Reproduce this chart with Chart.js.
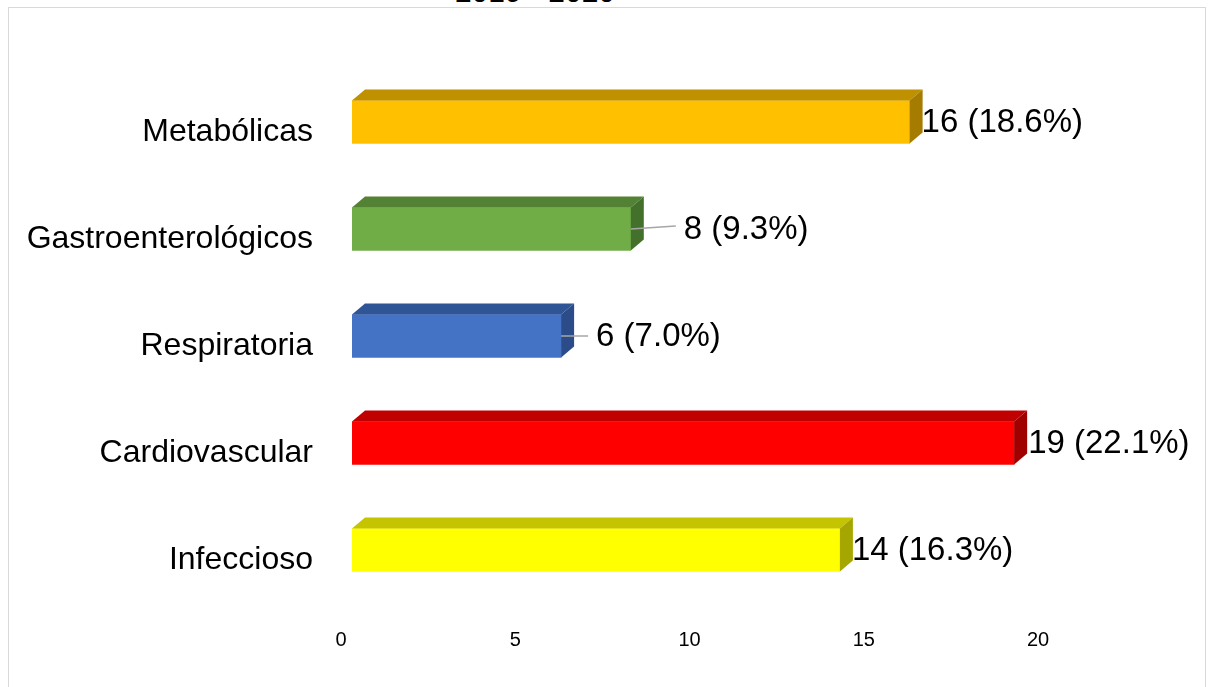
<!DOCTYPE html>
<html lang="es">
<head>
<meta charset="utf-8">
<title>Enfermedades 2019 - 2020</title>
<script src="https://cdn.jsdelivr.net/npm/chart.js@4/dist/chart.umd.min.js"></script>
<style>
  html, body { margin: 0; padding: 0; background: #fff; overflow: hidden; }
  .wrap { position: relative; width: 1215px; height: 687px; }
  .frame {
    position: absolute; left: 8px; top: 7px; width: 1198px; height: 700px;
    border: 1px solid #D9D9D9; box-sizing: border-box;
  }
  .title {
    position: absolute; left: 0; width: 1070px; top: -25px; text-align: center;
    font: 30px 'Liberation Sans', Arial, sans-serif; color: #000; line-height: 34px;
  }
  #chart { position: absolute; left: 0; top: 0; }
</style>
</head>
<body>
<div class="wrap">
  <div class="frame"></div>
  <div class="title">2019 - 2020</div>
  <canvas id="chart" width="1215" height="687"></canvas>
</div>
<script>
  // datos
  const categories = ['Metabólicas', 'Gastroenterológicos', 'Respiratoria', 'Cardiovascular', 'Infeccioso'];
  const counts = [16, 8, 6, 19, 14];
  const percents = [18.6, 9.3, 7.0, 22.1, 16.3];
  const xTicks = [0, 5, 10, 15, 20];

  // colores: cara frontal / superior / lateral
  const frontColors = ['#FFC000', '#70AD47', '#4472C4', '#FF0000', '#FFFF00'];
  const topColors   = ['#BF9000', '#548235', '#2F5597', '#C00000', '#C4C400'];
  const sideColors  = ['#A67C00', '#43712B', '#2B4C88', '#A00000', '#A6A600'];

  // desplazamiento de etiqueta (px) y línea guía
  const labelShift = [12, 53, 35, 14, 12];
  const hasLeader  = [false, true, true, false, false];

  const FONT = "'Liberation Sans', Arial, sans-serif";
  const DX = 13, DY = 11;

  const bar3d = {
    id: 'bar3d',
    afterDatasetsDraw(chart) {
      const ctx = chart.ctx;
      const meta = chart.getDatasetMeta(0);
      ctx.save();
      meta.data.forEach(function (bar, i) {
        const p = bar.getProps(['x', 'y', 'base', 'height'], true);
        const t = p.y - p.height / 2, b = p.y + p.height / 2;
        // cara superior
        ctx.fillStyle = topColors[i];
        ctx.beginPath();
        ctx.moveTo(p.base, t);
        ctx.lineTo(p.base + DX, t - DY);
        ctx.lineTo(p.x + DX, t - DY);
        ctx.lineTo(p.x, t);
        ctx.closePath();
        ctx.fill();
        // cara lateral
        ctx.fillStyle = sideColors[i];
        ctx.beginPath();
        ctx.moveTo(p.x, t);
        ctx.lineTo(p.x + DX, t - DY);
        ctx.lineTo(p.x + DX, b - DY);
        ctx.lineTo(p.x, b);
        ctx.closePath();
        ctx.fill();

        // etiqueta de datos
        const lx = p.x + labelShift[i];
        if (hasLeader[i]) {
          ctx.strokeStyle = '#A6A6A6';
          ctx.lineWidth = 1.5;
          ctx.beginPath();
          ctx.moveTo(p.x, p.y);
          ctx.lineTo(lx - 8, p.y - (i === 1 ? 3 : 0));
          ctx.stroke();
        }
        ctx.fillStyle = '#000';
        ctx.font = '33px ' + FONT;
        ctx.textAlign = 'left';
        ctx.textBaseline = 'middle';
        ctx.fillText(counts[i] + ' (' + percents[i].toFixed(1) + '%)', lx, p.y + 1);
      });
      ctx.restore();
    }
  };

  new Chart(document.getElementById('chart'), {
    type: 'bar',
    data: {
      labels: categories,
      datasets: [{
        data: counts,
        backgroundColor: frontColors,
        borderWidth: 0,
        barThickness: 43
      }]
    },
    options: {
      indexAxis: 'y',
      responsive: false,
      animation: false,
      devicePixelRatio: 1,
      layout: { padding: { top: 68.5, right: 166, left: 0, bottom: 0 } },
      plugins: {
        legend: { display: false },
        tooltip: { enabled: false },
        title: { display: false }
      },
      scales: {
        x: {
          min: xTicks[0],
          max: xTicks[xTicks.length - 1],
          afterBuildTicks: function (s) { s.ticks = xTicks.map(function (v) { return { value: v }; }); },
          afterFit: function (s) { s.height = 83.5; },
          grid: { display: false, drawTicks: false },
          border: { display: false },
          ticks: {
            color: '#000',
            font: { family: FONT, size: 20 },
            padding: 25,
            labelOffset: -11
          }
        },
        y: {
          afterFit: function (s) { s.width = 352; },
          grid: { display: false, drawTicks: false },
          border: { display: false },
          ticks: {
            color: '#000',
            font: { family: FONT, size: 32 },
            padding: 39,
            labelOffset: 10
          }
        }
      }
    },
    plugins: [bar3d]
  });
</script>
</body>
</html>
